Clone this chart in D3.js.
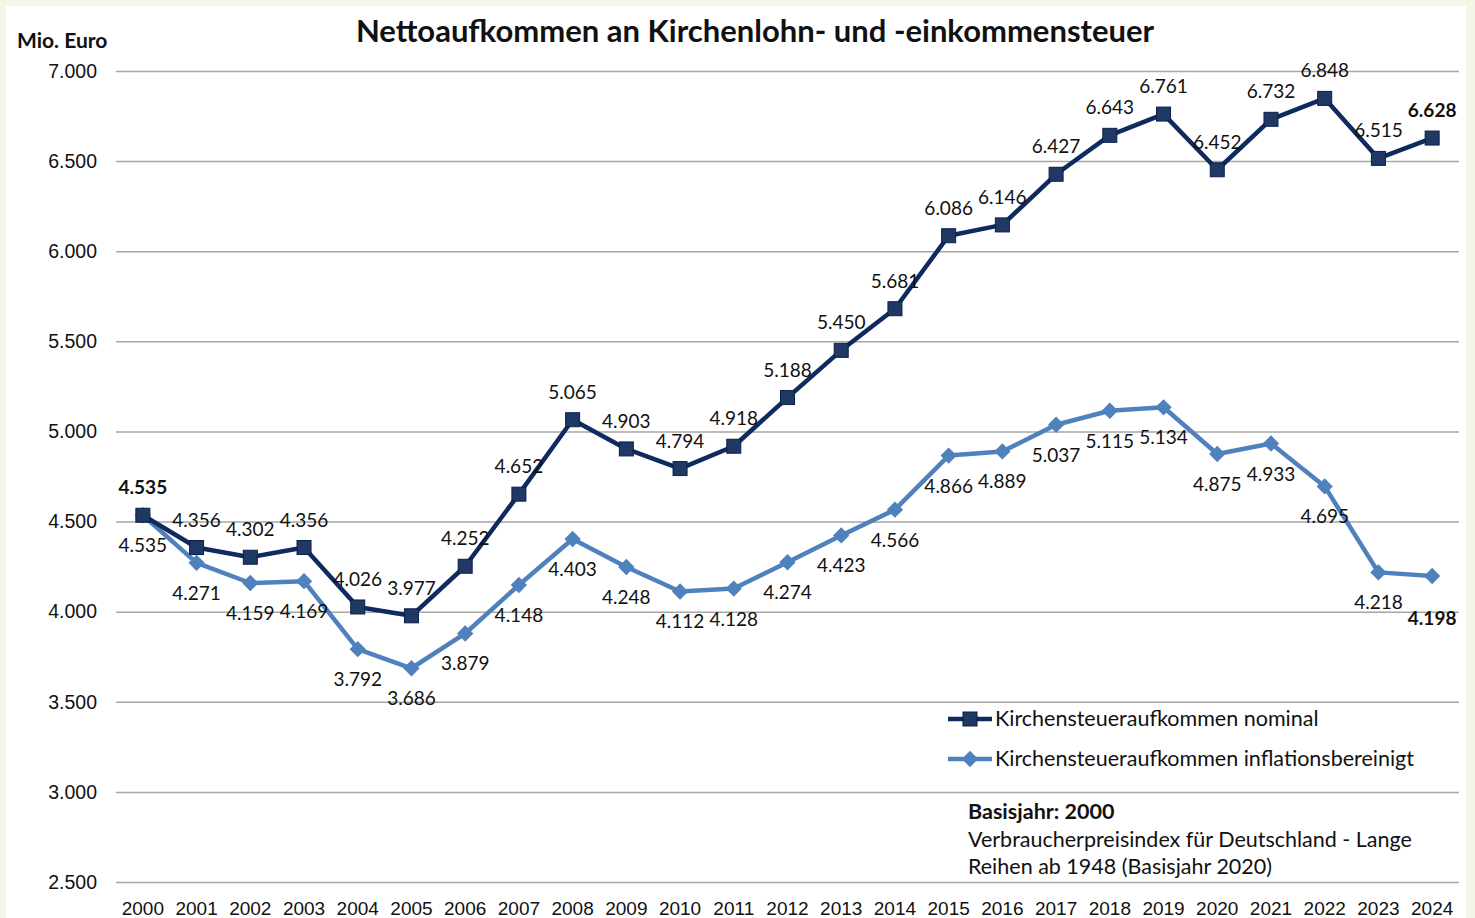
<!DOCTYPE html>
<html>
<head>
<meta charset="utf-8">
<script src="https://cdn.jsdelivr.net/npm/d3@7"></script>
<style>
body { margin: 0; background: #f3f5e7; }
svg { display: block; font-family: Lato, "Open Sans", sans-serif; }
</style>
</head>
<body>
<svg id="chart" width="1475" height="918"></svg>
<script>
const years = ['2000','2001','2002','2003','2004','2005','2006','2007','2008','2009','2010','2011','2012',
    '2013','2014','2015','2016','2017','2018','2019','2020','2021','2022','2023','2024'];
const nominal = [4535, 4356, 4302, 4356, 4026, 3977, 4252, 4652, 5065, 4903, 4794, 4918, 5188,
    5450, 5681, 6086, 6146, 6427, 6643, 6761, 6452, 6732, 6848, 6515, 6628];
const real = [4535, 4271, 4159, 4169, 3792, 3686, 3879, 4148, 4403, 4248, 4112, 4128, 4274,
    4423, 4566, 4866, 4889, 5037, 5115, 5134, 4875, 4933, 4695, 4218, 4198];
const yTicks = [2500, 3000, 3500, 4000, 4500, 5000, 5500, 6000, 6500, 7000];
const seriesNames = ['Kirchensteueraufkommen nominal', 'Kirchensteueraufkommen inflationsbereinigt'];

const fmt = d3.format(',');
const de = v => fmt(v).replace(/,/g, '.');

const svg = d3.select('#chart');
const plot = {left: 116, right: 1459, top: 71, bottom: 882};

svg.append('rect')
    .attr('x', 6).attr('y', 6)
    .attr('width', 1460).attr('height', 912)
    .attr('fill', '#fff');

const x = d3.scaleBand().domain(years).range([plot.left, plot.right]);
const y = d3.scaleLinear().domain([2500, 7000]).range([plot.bottom, plot.top]);
const cx = d => x(d) + x.bandwidth() / 2;

// gridlines + y labels
svg.append('g')
    .attr('transform', `translate(${plot.left},0)`)
    .call(d3.axisLeft(y).tickValues(yTicks).tickSize(-(plot.right - plot.left)).tickFormat(de))
    .call(g => g.select('.domain').remove())
    .call(g => g.selectAll('line').attr('stroke', '#a6a6a6').attr('stroke-width', 1.5))
    .call(g => g.selectAll('text')
        .attr('x', -19).attr('font-size', 19.5).attr('fill', '#111'));

svg.append('g')
    .attr('transform', `translate(0,${plot.bottom})`)
    .call(d3.axisBottom(x).tickSize(0))
    .call(g => g.select('.domain').remove())
    .call(g => g.selectAll('text')
        .attr('dy', 0).attr('y', 33).attr('font-size', 19).attr('fill', '#111'));

svg.append('text')
    .attr('x', 755).attr('y', 42)
    .attr('text-anchor', 'middle')
    .attr('font-size', 31).attr('font-weight', 'bold').attr('fill', '#111')
    .text('Nettoaufkommen an Kirchenlohn- und -einkommensteuer');

svg.append('text')
    .attr('x', 17).attr('y', 48)
    .attr('font-size', 21).attr('font-weight', 'bold').attr('fill', '#111')
    .text('Mio. Euro');

const line = d3.line().x((d, i) => cx(years[i])).y(d => y(d));

const dark = '#0e2a5e', light = '#4f81bd';
const diamond = d3.symbol(d3.symbolDiamond2, 170);

// inflation adjusted series
svg.append('path').datum(real)
    .attr('d', line).attr('fill', 'none')
    .attr('stroke', light).attr('stroke-width', 4.5).attr('stroke-linejoin', 'round');
svg.append('g').selectAll('path').data(real).join('path')
    .attr('d', diamond)
    .attr('transform', (d, i) => `translate(${cx(years[i])},${y(d)})`)
    .attr('fill', light);

// nominal series
svg.append('path').datum(nominal)
    .attr('d', line).attr('fill', 'none')
    .attr('stroke', dark).attr('stroke-width', 4.5).attr('stroke-linejoin', 'round');
svg.append('g').selectAll('rect').data(nominal).join('rect')
    .attr('x', (d, i) => cx(years[i]) - 7).attr('y', d => y(d) - 7)
    .attr('width', 14).attr('height', 14)
    .attr('fill', '#1f3864').attr('stroke', '#0b1f4a').attr('stroke-width', 1);

// data labels
const last = years.length - 1;
svg.append('g').selectAll('text').data(nominal).join('text')
    .attr('x', (d, i) => cx(years[i]))
    .attr('y', (d, i) => y(d) - 21)
    .attr('text-anchor', 'middle')
    .attr('font-size', 19).attr('fill', '#111')
    .attr('font-weight', (d, i) => (i == 0 || i == last) ? 'bold' : null)
    .text(de);

svg.append('g').selectAll('text').data(real).join('text')
    .attr('x', (d, i) => cx(years[i]))
    .attr('y', (d, i) => y(d) + (i == last ? 49 : 37))
    .attr('text-anchor', 'middle')
    .attr('font-size', 19).attr('fill', '#111')
    .attr('font-weight', (d, i) => i == last ? 'bold' : null)
    .text(de);

// legend
const legend = svg.append('g').attr('transform', 'translate(948,719)');
[dark, light].forEach((c, i) => {
    const g = legend.append('g').attr('transform', `translate(0,${i * 40})`);
    g.append('line').attr('x1', 0).attr('x2', 44)
        .attr('stroke', c).attr('stroke-width', 4.5);
    if (i == 0) {
        g.append('rect').attr('x', 15).attr('y', -7).attr('width', 14).attr('height', 14)
            .attr('fill', '#1f3864').attr('stroke', '#0b1f4a');
    } else {
        g.append('path').attr('d', diamond)
            .attr('transform', 'translate(22,0)').attr('fill', light);
    }
    g.append('text').attr('x', 47).attr('y', 7)
        .attr('font-size', 21.5).attr('fill', '#111')
        .text(seriesNames[i]);
});

const note = svg.append('g').attr('transform', 'translate(968,0)').attr('fill', '#111');
note.append('text').attr('y', 819).attr('font-size', 21.5).attr('font-weight', 'bold').text('Basisjahr: 2000');
note.append('text').attr('y', 847).attr('font-size', 21.5).text('Verbraucherpreisindex für Deutschland - Lange');
note.append('text').attr('y', 874).attr('font-size', 21.5).text('Reihen ab 1948 (Basisjahr 2020)');
</script>
</body>
</html>
